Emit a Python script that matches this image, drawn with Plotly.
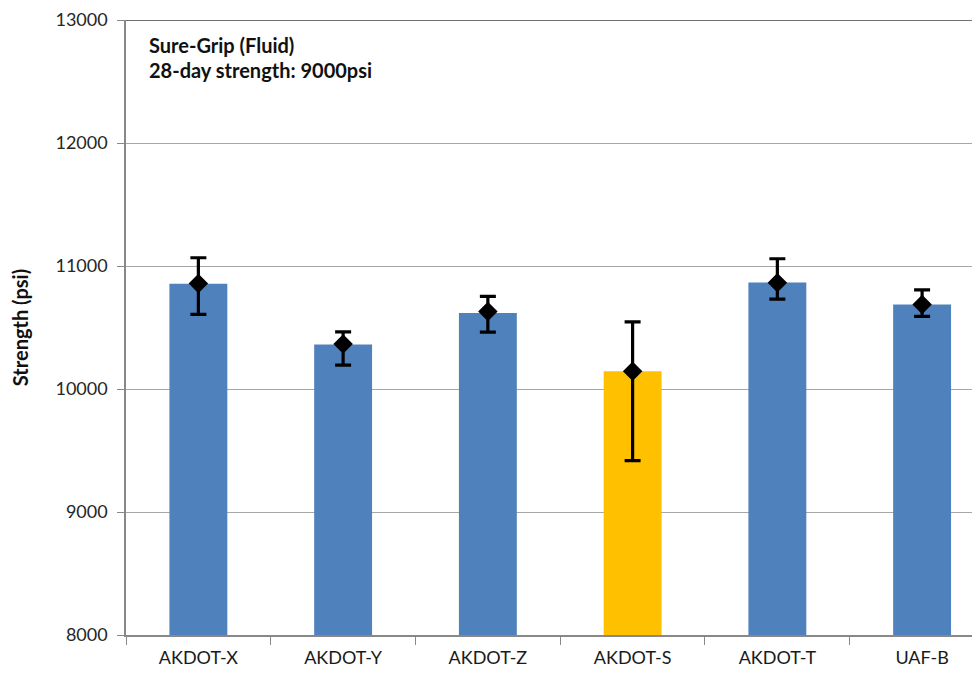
import plotly.graph_objects as go

categories = ["AKDOT-X", "AKDOT-Y", "AKDOT-Z", "AKDOT-S", "AKDOT-T", "UAF-B"]
bar_values = [10855, 10362, 10618, 10145, 10865, 10688]
mean_values = [10857, 10366, 10630, 10145, 10863, 10688]
err_upper = [11067, 10465, 10753, 10546, 11059, 10806]
err_lower = [10607, 10194, 10462, 9417, 10731, 10591]
bar_colors = ["#4F81BD", "#4F81BD", "#4F81BD", "#FFC000", "#4F81BD", "#4F81BD"]
y_ticks = [8000, 9000, 10000, 11000, 12000, 13000]

plus = [u - m for u, m in zip(err_upper, mean_values)]
minus = [m - l for m, l in zip(mean_values, err_lower)]

FONT = "Lato, 'Open Sans', sans-serif"

fig = go.Figure()
fig.add_trace(go.Bar(
    x=categories, y=bar_values, marker=dict(color=bar_colors, line=dict(width=0)),
    width=0.4, showlegend=False, hoverinfo="skip",
))
fig.add_trace(go.Scatter(
    x=categories, y=mean_values, mode="markers",
    marker=dict(symbol="diamond", size=15, color="black"),
    error_y=dict(type="data", symmetric=False, array=plus, arrayminus=minus,
                 color="black", thickness=3.2, width=8),
    showlegend=False,
))

fig.update_layout(
    width=972, height=667,
    margin=dict(l=118, r=0, t=5, b=40),
    plot_bgcolor="white", paper_bgcolor="white",
    font=dict(family=FONT, size=18, color="#262626"),
    xaxis=dict(
        type="category", range=[-0.5, 5.4],
        showline=True, linecolor="#888888", linewidth=1.5,
        ticks="outside", tickson="boundaries", ticklen=8, tickcolor="#888888",
        ticklabelstandoff=6,
        tickfont=dict(size=18, family=FONT, color="#1a1a1a"),
        showgrid=False, zeroline=False,
    ),
    yaxis=dict(
        range=[8000, 13000], tickvals=y_ticks, tickformat="d",
        ticklabeloverflow="allow",
        showline=True, linecolor="#888888", linewidth=1.5,
        ticks="outside", ticklen=7, tickcolor="#888888",
        ticklabelstandoff=6,
        showgrid=True, gridcolor="#a6a6a6", gridwidth=1.2,
        zeroline=False,
        tickfont=dict(size=18, family=FONT, color="#262626"),
        title=dict(text="<b>Strength (psi)</b>", font=dict(size=20, family=FONT, color="#111111"), standoff=24),
    ),
)

fig.add_shape(type="line", xref="paper", yref="y", x0=0, x1=1, y0=13000, y1=13000,
              line=dict(color="#404040", width=1.5))

fig.add_annotation(xref="paper", yref="paper", x=0.025, y=0.96, xanchor="left", yanchor="middle",
                   text="<b>Sure-Grip (Fluid)</b>", showarrow=False,
                   font=dict(size=20, family=FONT, color="#111111"))
fig.add_annotation(xref="paper", yref="paper", x=0.025, y=0.918, xanchor="left", yanchor="middle",
                   text="<b>28-day strength: 9000psi</b>", showarrow=False,
                   font=dict(size=20, family=FONT, color="#111111"))

fig.write_html("out.html")
